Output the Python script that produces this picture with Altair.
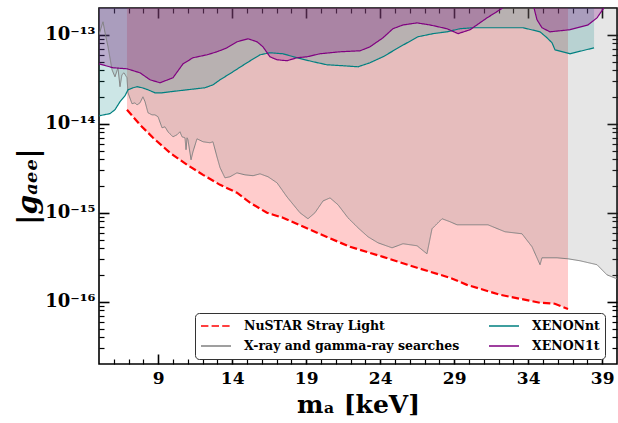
import altair as alt
import pandas as pd

# ---------------- data ----------------
nustar_m = [6.89, 7.77, 8.65, 9.80, 10.95, 12.03, 13.18, 14.32, 15.2, 16.35, 17.43,
            19.73, 21.96, 24.19, 26.49, 28.72, 29.86, 32.09, 34.8, 35.8, 36.69]
nustar_g = [1.44e-14, 9.75e-15, 6.97e-15, 4.72e-15, 3.46e-15, 2.67e-15, 2.06e-15,
            1.68e-15, 1.30e-15, 1.0e-15, 8.8e-16, 5.96e-16, 4.15e-16, 3.2e-16,
            2.41e-16, 1.86e-16, 1.55e-16, 1.2e-16, 9.75e-17, 9.5e-17, 8.3e-17]

xray_m = [5.0, 5.27, 5.41, 5.61, 5.88, 6.08, 6.28, 6.42, 6.55, 6.69, 6.89, 6.96, 7.23,
          7.43, 7.57, 7.77, 7.97, 8.11, 8.31, 8.58, 8.78, 8.99, 9.26, 9.46, 9.66, 10.0,
          10.27, 10.47, 10.61, 10.81, 10.88, 10.95, 11.01, 11.22, 11.35, 11.62, 12.03,
          12.5, 12.7, 12.97, 13.18, 13.51, 13.85, 14.32, 14.86, 15.41, 15.88, 16.42,
          17.03, 17.7, 18.58, 19.12, 19.59, 20.14, 20.61, 21.15, 21.82, 22.5, 23.18,
          23.85, 24.8, 25.54, 26.49, 27.16, 27.5, 28.18, 28.72, 29.19, 31.28, 32.43,
          33.58, 34.26, 34.8, 34.93, 35.95, 36.69, 37.5, 38.65, 39.32, 40.0]
xray_g = [1.0e-13, 1.40e-13, 1.05e-13, 7.33e-14, 4.04e-14, 3.37e-14, 4.26e-14, 2.61e-14,
          3.56e-14, 3.74e-14, 3.29e-14, 2.23e-14, 1.68e-14, 1.72e-14, 1.63e-14, 1.72e-14,
          2.01e-14, 1.77e-14, 1.33e-14, 1.26e-14, 1.26e-14, 1.20e-14, 9.02e-15, 9.25e-15,
          8.13e-15, 7.14e-15, 7.52e-15, 8.13e-15, 7.14e-15, 6.96e-15, 5.11e-15, 6.96e-15,
          6.61e-15, 3.94e-15, 4.85e-15, 6.78e-15, 6.28e-15, 6.12e-15, 6.28e-15, 4.26e-15,
          3.21e-15, 2.47e-15, 2.54e-15, 2.81e-15, 2.67e-15, 2.61e-15, 2.74e-15, 2.54e-15,
          2.17e-15, 1.51e-15, 1.0e-15, 8.57e-16, 1.0e-15, 1.36e-15, 1.47e-15, 1.23e-15,
          8.79e-16, 6.78e-16, 5.37e-16, 4.60e-16, 4.04e-16, 4.49e-16, 4.26e-16, 3.46e-16,
          6.61e-16, 8.57e-16, 7.93e-16, 7.33e-16, 7.33e-16, 6.12e-16, 5.81e-16, 4.15e-16,
          2.61e-16, 3.12e-16, 3.12e-16, 3.04e-16, 2.89e-16, 2.61e-16, 2.01e-16, 1.81e-16]

xnt_m = [5.0, 5.74, 6.08, 6.42, 6.76, 6.96, 7.30, 7.57, 7.91, 8.31, 8.78, 9.26, 9.80,
         10.95, 12.16, 12.7, 13.18, 14.05, 15.0, 15.88, 16.55, 17.43, 18.38, 19.46,
         20.41, 21.49, 22.5, 23.31, 24.19, 25.34, 26.55, 27.57, 28.51, 29.39, 30.27,
         31.62, 33.65, 34.8, 35.27, 35.61, 35.81, 36.82, 38.45]
xnt_g = [1.23e-14, 1.30e-14, 1.44e-14, 1.77e-14, 2.07e-14, 2.41e-14, 2.54e-14, 2.61e-14,
         2.54e-14, 2.41e-14, 2.23e-14, 2.23e-14, 2.29e-14, 2.41e-14, 2.54e-14, 2.74e-14,
         3.12e-14, 3.84e-14, 4.85e-14, 5.96e-14, 6.28e-14, 6.12e-14, 5.52e-14, 4.98e-14,
         4.60e-14, 4.49e-14, 4.37e-14, 4.85e-14, 5.66e-14, 7.33e-14, 9.5e-14, 1.03e-13,
         1.08e-13, 1.17e-13, 1.20e-13, 1.20e-13, 1.20e-13, 1.08e-13, 9.25e-14, 8.13e-14,
         6.78e-14, 6.12e-14, 7.14e-14]

x1t_m = [5.0, 5.95, 6.89, 7.77, 8.45, 9.12, 10.0, 10.68, 11.35, 12.30, 12.97, 13.65,
         14.32, 15.07, 15.68, 16.08, 16.55, 17.03, 17.7, 18.38, 19.05, 19.93, 21.28,
         22.64, 23.31, 24.19, 24.86, 25.54, 26.49, 27.36, 28.51, 29.26, 30.07, 31.22,
         32.09, 32.57, 33.11, 33.99, 34.39, 34.59, 34.93, 35.47, 36.82, 38.04, 38.65,
         39.12, 39.53]
x1t_g = [4.72e-14, 4.26e-14, 4.15e-14, 3.74e-14, 3.12e-14, 2.89e-14, 3.29e-14, 4.72e-14,
         5.52e-14, 5.96e-14, 6.44e-14, 7.14e-14, 8.34e-14, 9.02e-14, 8.34e-14, 7.33e-14,
         5.66e-14, 5.24e-14, 5.11e-14, 5.52e-14, 5.66e-14, 6.12e-14, 6.44e-14, 6.61e-14,
         7.33e-14, 9.25e-14, 1.17e-13, 1.29e-13, 1.36e-13, 1.29e-13, 1.17e-13, 1.03e-13,
         1.14e-13, 1.55e-13, 1.91e-13, 2.17e-13, 3.2e-13, 3.2e-13, 2.01e-13, 1.48e-13,
         1.20e-13, 1.08e-13, 1.14e-13, 1.29e-13, 1.55e-13, 2.01e-13, 2.8e-13]

# legend is laid out column by column: col 1 = first two names, col 2 = last two
series_names = ["NuSTAR Stray Light", "X-ray and gamma-ray searches", "XENONnt", "XENON1t"]
series_colors = ["#ff0000", "#808080", "#008080", "#800080"]

x_major = [9, 14, 19, 24, 29, 34, 39]
x_minor = [v for v in range(6, 40) if v not in x_major]
y_major = [1e-16, 1e-15, 1e-14, 1e-13]
y_minor = [k * 10.0 ** e for e in (-17, -16, -15, -14) for k in range(2, 10)]
y_minor = [v for v in y_minor if 2.05e-17 < v < 1.99e-13]

# ---------------- tables ----------------
nu_df = pd.DataFrame({"m": nustar_m, "g": nustar_g})
xr_df = pd.DataFrame({"m": xray_m, "g": xray_g})
nt_df = pd.DataFrame({"m": xnt_m, "g": xnt_g})
t1_df = pd.DataFrame({"m": x1t_m, "g": x1t_g})

lines_df = pd.concat([
    nu_df.assign(series=series_names[0]),
    xr_df.assign(series=series_names[1]),
    nt_df.assign(series=series_names[2]),
    t1_df.assign(series=series_names[3]),
], ignore_index=True)

SX = alt.Scale(domain=[5, 40], nice=False, zero=False)
SY = alt.Scale(type="log", domain=[2e-17, 2e-13], nice=False)
FONT = "DejaVu Serif"


def area(df, color, op):
    return alt.Chart(df).mark_area(color=color, opacity=op, clip=True).encode(
        x=alt.X("m:Q", scale=SX, axis=None),
        y=alt.Y("g:Q", scale=SY, axis=None, stack=None),
        y2=alt.value(0),
    )


fills = [
    area(nu_df, "#ff0000", 0.2),
    area(xr_df, "#808080", 0.2),
    area(nt_df, "#008080", 0.2),
    area(t1_df, "#800080", 0.25),
]

lines = alt.Chart(lines_df).transform_calculate(
    w="datum.series == 'NuSTAR Stray Light' ? 2.2 : (datum.series == 'X-ray and gamma-ray searches' ? 1.0 : 1.2)"
).mark_line(clip=True).encode(
    x=alt.X("m:Q", scale=SX, axis=None),
    y=alt.Y("g:Q", scale=SY, axis=None, stack=None),
    color=alt.Color("series:N", scale=alt.Scale(domain=series_names, range=series_colors), title=None),
    strokeDash=alt.StrokeDash("series:N", scale=alt.Scale(domain=series_names,
                              range=[[7.4, 3.2], [1, 0], [1, 0], [1, 0]]), title=None),
    strokeWidth=alt.StrokeWidth("w:Q", scale=None, legend=None),
    detail="series:N",
)

ylabel = ("datum.value > 5e-14 ? '10⁻¹³' : datum.value > 5e-15 ? '10⁻¹⁴' : "
          "datum.value > 5e-16 ? '10⁻¹⁵' : '10⁻¹⁶'")


def axis_layer(xa, ya):
    return alt.Chart(nu_df).mark_point(opacity=0).encode(
        x=alt.X("m:Q", scale=SX, axis=xa),
        y=alt.Y("g:Q", scale=SY, axis=ya),
    )


common = dict(domain=False, grid=False, tickColor="black")

x_main = alt.Axis(orient="bottom", values=x_major, offset=-10, tickSize=10, tickWidth=1.6,
                  labelPadding=6, labelFont=FONT, labelFontWeight="bold", labelFontSize=17,
                  labelColor="black", labelFlush=False, title="mₐ [keV]", titleFont=FONT,
                  titleFontSize=25, titleFontWeight="bold", titleColor="black",
                  titlePadding=6, **common)
x_min = alt.Axis(orient="bottom", values=x_minor, offset=-5, tickSize=5, tickWidth=1.2,
                 labels=False, title=None, **common)
x_top = alt.Axis(orient="top", values=x_major, offset=-10, tickSize=10, tickWidth=1.6,
                 labels=False, title=None, **common)
x_top_min = alt.Axis(orient="top", values=x_minor, offset=-5, tickSize=5, tickWidth=1.2,
                     labels=False, title=None, **common)

y_main = alt.Axis(orient="left", values=y_major, offset=-10, tickSize=10, tickWidth=1.6,
                  labelPadding=4, labelExpr=ylabel, labelFont=FONT, labelFontWeight="bold",
                  labelFontSize=18, labelColor="black", labelFlush=False,
                  title="|gₐₑₑ|", titleFont=FONT, titleFontSize=28, titleFontWeight="bold",
                  titleFontStyle="italic", titleColor="black", titlePadding=2, **common)
y_min = alt.Axis(orient="left", values=y_minor, offset=-5, tickSize=5, tickWidth=1.2,
                 labels=False, title=None, **common)
y_right = alt.Axis(orient="right", values=y_major, offset=-10, tickSize=10, tickWidth=1.6,
                   labels=False, title=None, **common)
y_right_min = alt.Axis(orient="right", values=y_minor, offset=-5, tickSize=5, tickWidth=1.2,
                       labels=False, title=None, **common)

axes = [
    axis_layer(x_main, y_main),
    axis_layer(x_min, y_min),
    axis_layer(x_top, y_right),
    axis_layer(x_top_min, y_right_min),
]

chart = alt.layer(*fills, lines, *axes).resolve_axis(
    x="independent", y="independent"
).properties(
    width=518, height=356,
    autosize=alt.AutoSizeParams(type="none"),
    padding={"left": 99, "top": 8, "right": 1, "bottom": 59},
    background="white",
).configure_view(
    stroke="black", strokeWidth=1.6
).configure_legend(
    orient="none", legendX=96, legendY=305, columns=2, columnPadding=28, rowPadding=4,
    clipHeight=16, symbolType="stroke", symbolSize=900, symbolStrokeWidth=1.6,
    labelOffset=12, labelLimit=400,
    labelFont=FONT, labelFontWeight="bold", labelFontSize=12.5, labelColor="black",
    padding=5, strokeColor="#333333", cornerRadius=4, fillColor="white",
)

chart.save("out.html", embed_options={"renderer": "svg", "actions": False})
